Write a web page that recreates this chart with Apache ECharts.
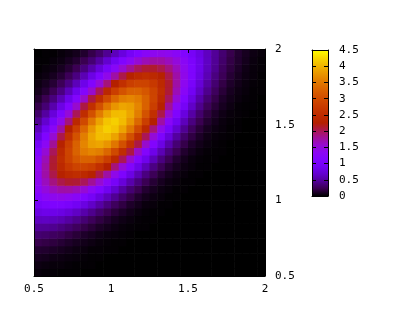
<!DOCTYPE html>
<html>
<head>
<meta charset="utf-8">
<script src="https://cdn.jsdelivr.net/npm/echarts@6/dist/echarts.min.js"></script>
<style>
html, body { margin: 0; padding: 0; background: #fff; }
#main { width: 400px; height: 320px; }
</style>
</head>
<body>
<div id="main"></div>
<script>
// lower-left corner of every cell, cells are 0.05 wide
var xStart = [0.5, 0.55, 0.6, 0.65, 0.7, 0.75, 0.8, 0.85, 0.9, 0.95,
              1.0, 1.05, 1.1, 1.15, 1.2, 1.25, 1.3, 1.35, 1.4, 1.45,
              1.5, 1.55, 1.6, 1.65, 1.7, 1.75, 1.8, 1.85, 1.9, 1.95];
var yStart = [0.5, 0.55, 0.6, 0.65, 0.7, 0.75, 0.8, 0.85, 0.9, 0.95,
              1.0, 1.05, 1.1, 1.15, 1.2, 1.25, 1.3, 1.35, 1.4, 1.45,
              1.5, 1.55, 1.6, 1.65, 1.7, 1.75, 1.8, 1.85, 1.9, 1.95];
var cell = 0.05;

// values, one row per yStart (bottom row first)
var z = [
  [.03,.02,.02,.01,.01,.01,0,0,0,0,0,0,0,0,0,0,0,0,0,0,0,0,0,0,0,0,0,0,0,0],
  [.05,.04,.03,.03,.02,.01,.01,.01,0,0,0,0,0,0,0,0,0,0,0,0,0,0,0,0,0,0,0,0,0,0],
  [.09,.08,.06,.05,.04,.03,.02,.01,.01,0,0,0,0,0,0,0,0,0,0,0,0,0,0,0,0,0,0,0,0,0],
  [.14,.13,.11,.09,.07,.05,.04,.02,.02,.01,.01,0,0,0,0,0,0,0,0,0,0,0,0,0,0,0,0,0,0,0],
  [.22,.20,.18,.15,.12,.09,.07,.05,.03,.02,.01,.01,0,0,0,0,0,0,0,0,0,0,0,0,0,0,0,0,0,0],
  [.33,.31,.28,.25,.20,.16,.12,.09,.06,.04,.03,.02,.01,0,0,0,0,0,0,0,0,0,0,0,0,0,0,0,0,0],
  [.46,.45,.43,.38,.33,.27,.21,.16,.11,.08,.05,.03,.02,.01,.01,0,0,0,0,0,0,0,0,0,0,0,0,0,0,0],
  [.62,.63,.61,.57,.50,.42,.34,.26,.19,.14,.09,.06,.04,.02,.01,.01,0,0,0,0,0,0,0,0,0,0,0,0,0,0],
  [.80,.84,.84,.80,.73,.64,.53,.42,.32,.23,.16,.11,.07,.04,.02,.01,.01,0,0,0,0,0,0,0,0,0,0,0,0,0],
  [.98,1.06,1.10,1.09,1.03,.92,.79,.65,.51,.38,.27,.19,.12,.08,.04,.03,.01,.01,0,0,0,0,0,0,0,0,0,0,0,0],
  [1.15,1.29,1.38,1.41,1.37,1.27,1.13,.96,.77,.60,.44,.31,.21,.13,.08,.05,.03,.01,.01,0,0,0,0,0,0,0,0,0,0,0],
  [1.29,1.49,1.64,1.73,1.74,1.67,1.53,1.34,1.12,.89,.68,.49,.34,.23,.14,.09,.05,.03,.01,.01,0,0,0,0,0,0,0,0,0,0],
  [1.38,1.64,1.87,2.04,2.12,2.10,1.99,1.80,1.55,1.27,1.00,.75,.54,.37,.24,.15,.09,.05,.03,.01,.01,0,0,0,0,0,0,0,0,0],
  [1.41,1.73,2.04,2.29,2.46,2.52,2.46,2.29,2.04,1.74,1.41,1.09,.81,.57,.38,.25,.15,.09,.05,.03,.01,.01,0,0,0,0,0,0,0,0],
  [1.37,1.74,2.12,2.46,2.72,2.88,2.90,2.80,2.57,2.26,1.89,1.51,1.16,.84,.59,.39,.25,.15,.09,.05,.03,.01,.01,0,0,0,0,0,0,0],
  [1.27,1.67,2.10,2.52,2.88,3.14,3.27,3.26,3.09,2.80,2.43,2.00,1.58,1.19,.86,.59,.38,.24,.14,.08,.04,.02,.01,.01,0,0,0,0,0,0],
  [1.13,1.53,1.99,2.46,2.90,3.27,3.52,3.62,3.55,3.32,2.97,2.53,2.06,1.60,1.19,.84,.57,.37,.23,.13,.08,.04,.02,.01,.01,0,0,0,0,0],
  [.96,1.34,1.80,2.29,2.80,3.26,3.62,3.84,3.89,3.76,3.47,3.06,2.57,2.06,1.58,1.16,.81,.54,.34,.21,.12,.07,.04,.02,.01,0,0,0,0,0],
  [.77,1.12,1.55,2.04,2.57,3.09,3.55,3.89,4.07,4.06,3.87,3.52,3.06,2.53,2.00,1.51,1.09,.75,.49,.31,.19,.11,.06,.03,.02,.01,0,0,0,0],
  [.60,.89,1.27,1.74,2.26,2.80,3.32,3.76,4.06,4.19,4.12,3.87,3.47,2.97,2.43,1.89,1.41,1.00,.68,.44,.27,.16,.09,.05,.03,.01,.01,0,0,0],
  [.44,.68,1.00,1.41,1.89,2.43,2.97,3.47,3.87,4.12,4.19,4.06,3.76,3.32,2.80,2.26,1.74,1.27,.89,.60,.38,.23,.14,.08,.04,.02,.01,0,0,0],
  [.31,.49,.75,1.09,1.51,2.00,2.53,3.06,3.52,3.87,4.06,4.07,3.89,3.55,3.09,2.57,2.04,1.55,1.12,.77,.51,.32,.19,.11,.06,.03,.02,.01,0,0],
  [.21,.34,.54,.81,1.16,1.58,2.06,2.57,3.06,3.47,3.76,3.89,3.84,3.62,3.26,2.80,2.29,1.80,1.34,.96,.65,.42,.26,.16,.09,.05,.02,.01,.01,0],
  [.13,.23,.37,.57,.84,1.19,1.60,2.06,2.53,2.97,3.32,3.55,3.62,3.52,3.27,2.90,2.46,1.99,1.53,1.13,.79,.53,.34,.21,.12,.07,.04,.02,.01,0],
  [.08,.14,.24,.38,.59,.86,1.19,1.58,2.00,2.43,2.80,3.09,3.26,3.27,3.14,2.88,2.52,2.10,1.67,1.27,.92,.64,.42,.27,.16,.09,.05,.03,.01,.01],
  [.05,.09,.15,.25,.39,.59,.84,1.16,1.51,1.89,2.26,2.57,2.80,2.90,2.88,2.72,2.46,2.12,1.74,1.37,1.03,.73,.50,.33,.20,.12,.07,.04,.02,.01],
  [.03,.05,.09,.15,.25,.38,.57,.81,1.09,1.41,1.74,2.04,2.29,2.46,2.52,2.46,2.29,2.04,1.73,1.41,1.09,.80,.57,.38,.25,.15,.09,.05,.03,.01],
  [.01,.03,.05,.09,.15,.24,.37,.54,.75,1.00,1.27,1.55,1.80,1.99,2.10,2.12,2.04,1.87,1.64,1.38,1.10,.84,.61,.43,.28,.18,.11,.06,.03,.02],
  [.01,.01,.03,.05,.09,.14,.23,.34,.49,.68,.89,1.12,1.34,1.53,1.67,1.74,1.73,1.64,1.49,1.29,1.06,.84,.63,.45,.31,.20,.13,.08,.04,.02],
  [0,.01,.01,.03,.05,.08,.13,.21,.31,.44,.60,.77,.96,1.13,1.27,1.37,1.41,1.38,1.29,1.15,.98,.80,.62,.46,.33,.22,.14,.09,.05,.03]
];

var axisMin = 0.5, axisMax = 2, axisStep = 0.5;
var cbMin = 0, cbMax = 4.5, cbStep = 0.5;

// gnuplot default palette (rgbformulae 7,5,15)
function pal(t) {
  var r = Math.sqrt(t), g = t * t * t, b = Math.max(0, Math.sin(2 * Math.PI * t));
  return 'rgb(' + Math.round(r * 255) + ',' + Math.round(g * 255) + ',' + Math.round(b * 255) + ')';
}
var palColors = [], palStops = [];
for (var k = 0; k <= 20; k++) {
  palColors.push(pal(k / 20));
  palStops.push({ offset: k / 20, color: pal(k / 20) });
}

var cells = [];
for (var j = 0; j < yStart.length; j++) {
  for (var i = 0; i < xStart.length; i++) {
    cells.push([xStart[i], yStart[j], z[j][i]]);
  }
}

var font = 'DejaVu Sans Mono';
var black = '#000';

function tickAxis(grid, pos, min, max, step, labels, margin) {
  return {
    gridIndex: grid, type: 'value', position: pos, min: min, max: max, interval: step,
    z: 5,
    axisLine: { show: true, onZero: false, lineStyle: { color: black, width: 1 } },
    axisTick: { show: true, inside: true, length: 4, lineStyle: { color: black } },
    axisLabel: { show: labels, color: black, fontFamily: font, fontSize: 11, margin: margin },
    splitLine: { show: false }
  };
}

var dom = document.getElementById('main');
var chart = echarts.init(dom);

var option = {
  animation: false,
  backgroundColor: '#fff',
  grid: [
    { left: 34, top: 49, width: 231, height: 227 },
    { left: 312, top: 50, width: 16, height: 146 }
  ],
  xAxis: [
    tickAxis(0, 'bottom', axisMin, axisMax, axisStep, true, 8),
    tickAxis(0, 'top', axisMin, axisMax, axisStep, false, 8),
    { gridIndex: 1, type: 'value', position: 'bottom', min: 0, max: 1, z: 5,
      axisLine: { show: true, onZero: false, lineStyle: { color: black } },
      axisTick: { show: false }, axisLabel: { show: false }, splitLine: { show: false } },
    { gridIndex: 1, type: 'value', position: 'top', min: 0, max: 1, z: 5,
      axisLine: { show: true, onZero: false, lineStyle: { color: black } },
      axisTick: { show: false }, axisLabel: { show: false }, splitLine: { show: false } }
  ],
  yAxis: [
    tickAxis(0, 'right', axisMin, axisMax, axisStep, true, 10),
    tickAxis(0, 'left', axisMin, axisMax, axisStep, false, 10),
    tickAxis(1, 'right', cbMin, cbMax, cbStep, true, 11),
    tickAxis(1, 'left', cbMin, cbMax, cbStep, false, 11)
  ],
  visualMap: {
    type: 'continuous', show: false, seriesIndex: 0, dimension: 2,
    min: cbMin, max: cbMax, inRange: { color: palColors }
  },
  series: [
    {
      type: 'custom',
      xAxisIndex: 0, yAxisIndex: 0,
      z: 1,
      clip: true,
      encode: { x: 0, y: 1 },
      data: cells,
      renderItem: function (params, api) {
        var x0 = api.value(0), y0 = api.value(1);
        var p0 = api.coord([x0, y0]);
        var p1 = api.coord([x0 + cell, y0 + cell]);
        return {
          type: 'rect',
          shape: { x: p0[0], y: p1[1], width: p1[0] - p0[0] + 0.6, height: p0[1] - p1[1] + 0.6 },
          style: { fill: api.visual('color') }
        };
      }
    },
    {
      // colour box
      type: 'custom',
      xAxisIndex: 2, yAxisIndex: 2,
      z: 1,
      data: [[0, cbMin, cbMax]],
      renderItem: function (params, api) {
        var p0 = api.coord([0, api.value(1)]);
        var p1 = api.coord([1, api.value(2)]);
        return {
          type: 'rect',
          shape: { x: p0[0], y: p1[1], width: p1[0] - p0[0], height: p0[1] - p1[1] },
          style: { fill: new echarts.graphic.LinearGradient(0, 1, 0, 0, palStops) }
        };
      }
    }
  ]
};

chart.setOption(option, true);
</script>
</body>
</html>
